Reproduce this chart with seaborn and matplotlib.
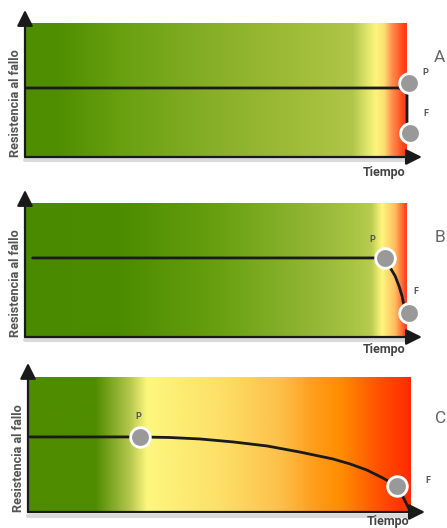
import numpy as np
import matplotlib.pyplot as plt
import seaborn as sns
from matplotlib.colors import LinearSegmentedColormap

sns.set_style('white')
plt.rcParams['font.family'] = ['Roboto', 'DejaVu Sans']

# Panel A - resistance stays flat, then drops straight down at the end
a_time = [0.3, 98.0, 100.0, 100.0]
a_res = [51.5, 51.5, 48.0, 22.0]
a_pf_time = [100.6, 100.8]
a_pf_res = [55.2, 17.9]

# Panel B - flat, then a short fast drop
b_time = [2.0, 94.2, 95.5, 96.9, 97.9, 98.7, 99.2, 100.5]
b_res = [59.0, 59.0, 52.2, 45.5, 38.1, 30.6, 23.9, 17.9]
b_pf_time = [94.2, 100.5]
b_pf_res = [59.0, 17.9]

# Panel C - early P, long slow decline to F
c_time = [0.5, 29.3, 37.0, 45.0, 53.7, 62.6, 71.2, 79.8, 84.3, 88.7, 92.9,
          96.6, 98.2, 99.5, 100.3]
c_res = [55.6, 55.6, 55.2, 54.1, 51.9, 48.9, 44.4, 39.3, 35.6, 31.1, 25.2,
         19.3, 11.1, 3.7, 0.0]
c_pf_time = [29.3, 96.6]
c_pf_res = [55.6, 19.3]

# background gradients (stop position, colour)
a_stops = [0.0, 0.08, 0.25, 0.51, 0.77, 0.86, 0.885, 0.921, 0.942, 0.963, 0.99, 1.0]
a_colors = ['#4f8f00', '#4e8e00', '#68a010', '#8ab02a', '#a6c03e', '#b0c64a',
            '#d0dc60', '#fdf57c', '#fde070', '#ff9050', '#ff4a20', '#ff3a10']
b_stops = [0.0, 0.25, 0.51, 0.77, 0.86, 0.908, 0.937, 0.97, 1.0]
b_colors = ['#4a8a00', '#4c8c00', '#68a010', '#96b838', '#a9c443', '#b8cc50',
            '#fff57e', '#ffc060', '#ff4020']
c_stops = [0.0, 0.175, 0.267, 0.31, 0.50, 0.66, 0.74, 0.82, 0.92, 1.0]
c_colors = ['#4e8c00', '#4f8c00', '#b8c850', '#fdf77e', '#fde068', '#fdc04a',
            '#ffa020', '#ff8c00', '#ff5000', '#ff2a00']

W, H = 447, 528
fig = plt.figure(figsize=(W / 100, H / 100), dpi=100)


def draw_panel(left, top, width, height, stops, colors, t, r, pf_t, pf_r,
               letter, p_pos, f_pos, letter_pos, tiempo_pos, ytip, xtip):
    ax = fig.add_axes([left / W, 1 - (top + height) / H, width / W, height / H])
    cmap = LinearSegmentedColormap.from_list('grad', list(zip(stops, colors)))
    ax.imshow(np.linspace(0, 1, 800)[None, :], cmap=cmap, aspect='auto',
              extent=[0, 100, 0, 100], interpolation='bilinear', zorder=0)
    ax.set_xlim(0, 100)
    ax.set_ylim(0, 100)
    ax.axis('off')

    # soft shadow under the time axis
    ax.plot([0, 100], [-2.6, -2.6], color='#dadada', lw=3, clip_on=False, zorder=0)

    sns.lineplot(x=t, y=r, ax=ax, color='#1a1a1a', lw=2, sort=False,
                 estimator=None, clip_on=False, zorder=3)
    sns.scatterplot(x=pf_t, y=pf_r, ax=ax, s=200, color='#999999',
                    edgecolor='white', linewidth=2, zorder=5, clip_on=False)

    arrow = dict(arrowstyle='-|>,head_length=0.8,head_width=0.4', mutation_scale=12,
                 color='#1a1a1a', lw=1.6, shrinkA=0, shrinkB=0)
    ax.annotate('', xy=(0, ytip), xytext=(0, 0), xycoords='axes fraction',
                arrowprops=arrow, annotation_clip=False, zorder=6)
    ax.annotate('', xy=(xtip, 0), xytext=(0, 0), xycoords='axes fraction',
                arrowprops=arrow, annotation_clip=False, zorder=6)

    ax.text(-0.026, 0.0, 'Resistencia al fallo', transform=ax.transAxes,
            rotation=90, ha='center', va='bottom', fontsize=9.2,
            fontweight='bold', color='#555555')
    ax.text(*tiempo_pos, 'Tiempo', ha='center', va='center', fontsize=9,
            fontweight='bold', color='#444444', clip_on=False)
    ax.text(*p_pos, 'P', ha='center', va='center', fontsize=6.5,
            fontweight='bold', color='#555555', clip_on=False)
    ax.text(*f_pos, 'F', ha='center', va='center', fontsize=6.5,
            fontweight='bold', color='#555555', clip_on=False)
    ax.text(*letter_pos, letter, ha='center', va='center', fontsize=12.5,
            color='#666666', clip_on=False)
    return ax


draw_panel(25, 23, 382, 134, a_stops, a_colors, a_time, a_res, a_pf_time, a_pf_res,
           'A', (104.7, 62.7), (105.0, 32.1), (108.6, 74.6), (94.1, -11.9),
           1.097, 1.039)
draw_panel(25, 203, 382, 134, b_stops, b_colors, b_time, b_res, b_pf_time, b_pf_res,
           'B', (90.8, 72.4), (102.4, 34.3), (108.6, 73.9), (94.0, -9.7),
           1.097, 1.039)
draw_panel(28, 377, 382, 135, c_stops, c_colors, c_time, c_res, c_pf_time, c_pf_res,
           'C', (28.8, 71.1), (104.7, 23.0), (107.9, 69.6), (94.2, -7.4),
           1.104, 1.039)

fig.savefig('out.png', dpi=100)
